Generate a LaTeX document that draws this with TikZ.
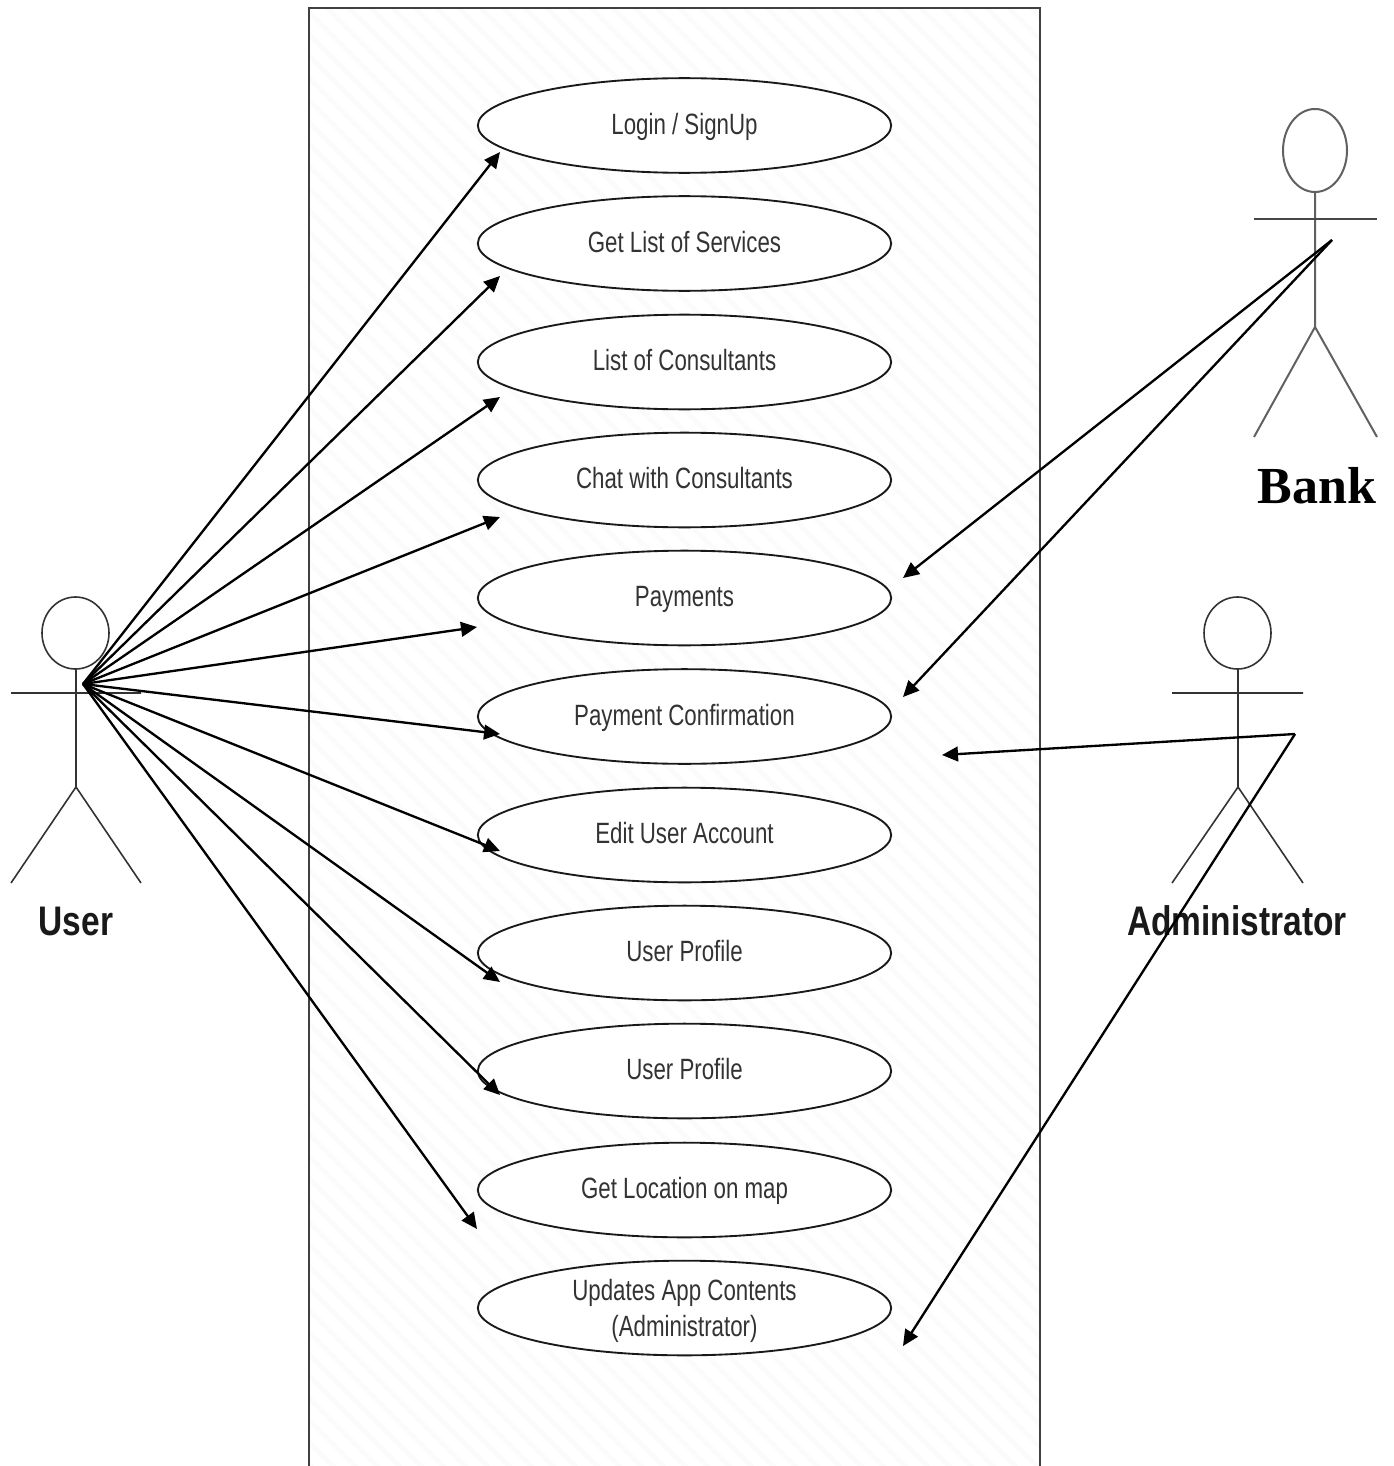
\documentclass[tikz,border=0pt]{standalone}
\usepackage{fontspec}
\setmainfont{Liberation Sans}
\newfontfamily\bankfont{Liberation Serif}
\usetikzlibrary{arrows.meta,shapes.geometric}
\newcommand{\uctext}[1]{\rule[-5pt]{0pt}{23pt}\scalebox{0.76}[1.0]{#1}}
\newcommand{\actortext}[1]{\scalebox{0.81}[1.0]{\bfseries #1}}
\tikzset{
  x=0.75pt,y=-0.75pt,
  usecase/.style={ellipse,draw=black!90,line width=1.4pt,fill=white,minimum width=310pt,minimum height=71pt,inner sep=0pt,align=center,font=\fontsize{22pt}{27pt}\selectfont,text=black!80},
  actorline/.style={draw=black!80,line width=1.2pt},
  bankline/.style={draw=black!62,line width=1.5pt},
  bankarm/.style={draw=black!72,line width=2.1pt},
  link/.style={draw=black,line width=1.75pt,-{Triangle[length=12pt,width=11pt]}},
  actorlabel/.style={inner sep=0pt,anchor=base,font=\fontsize{31pt}{34pt}\selectfont,text=black!90},
  hatch/.style={draw=black!1.6,line width=3.5pt}
}
\begin{document}
\begin{tikzpicture}
\useasboundingbox (0,0) rectangle (1394,1466);
% system boundary
\begin{scope}
  \clip (309,8) rectangle (1040,1466);
  \foreach \k in {-1500,-1478,...,800}
    \draw[hatch] (309+\k,8) -- ++(1500,1500);
\end{scope}
\draw[draw=black!75,line width=1.2pt] (309,1466) -- (309,8) -- (1040,8) -- (1040,1466);
% use cases
\node[usecase] (login)   at (684.5,125.5)  {\uctext{Login / SignUp}};
\node[usecase] (list)    at (684.5,243.5)  {\uctext{Get List of Services}};
\node[usecase] (cons)    at (684.5,362)  {\uctext{List of Consultants}};
\node[usecase] (chat)    at (684.5,480)  {\uctext{Chat with Consultants}};
\node[usecase] (pay)     at (684.5,598)  {\uctext{Payments}};
\node[usecase] (confirm) at (684.5,716.5)  {\uctext{Payment Confirmation}};
\node[usecase] (edit)    at (684.5,835)  {\uctext{Edit User Account}};
\node[usecase] (prof)    at (684.5,953)  {\uctext{User Profile}};
\node[usecase] (profb)   at (684.5,1071) {\uctext{User Profile}};
\node[usecase] (map)     at (684.5,1190) {\uctext{Get Location on map}};
\node[usecase] (upd)     at (684.5,1308) {\raisebox{-7.5pt}[0pt][0pt]{\begin{tabular}{@{}c@{}}\scalebox{0.76}[1.0]{Updates App Contents}\\\scalebox{0.76}[1.0]{(Administrator)}\end{tabular}}};
% user actor
\draw[actorline] (75.5,633) ellipse (33.5 and 36);
\draw[actorline] (76,669) -- (76,787) (11,693) -- (141,693) (11,883) -- (76,787) -- (141,883);
\node[actorlabel] (userlabel) at (76,935) {\actortext{User}};
% bank actor
\draw[bankline] (1315,150.5) ellipse (32 and 41.5);
\draw[bankline] (1315,192) -- (1315,327) (1254,437) -- (1315,327) -- (1377,437);
\draw[bankarm] (1254,219) -- (1377,219);
\node[inner sep=0pt,anchor=base,font=\bankfont\bfseries\fontsize{39pt}{42pt}\selectfont] (banklabel) at (1317,503) {Bank};
% administrator actor
\draw[actorline] (1237.5,633) ellipse (33.5 and 36);
\draw[actorline] (1238,669) -- (1238,787) (1172,693) -- (1303,693) (1172,883) -- (1238,787) -- (1303,883);
\node[actorlabel] (adminlabel) at (1237,935) {\actortext{Administrator}};
% connector ends
\coordinate (u) at (83,684);
\coordinate (b) at (1332,240);
\coordinate (a) at (1295,734);
\coordinate (t1) at (500,152);
\coordinate (t2) at (500,276);
\coordinate (t3) at (500,397);
\coordinate (t4) at (500,517);
\coordinate (t5) at (477,627);
\coordinate (t6) at (500,734);
\coordinate (t7) at (500,851);
\coordinate (t8) at (500,982);
\coordinate (t9) at (500,1095);
\coordinate (t10) at (477,1229);
\coordinate (bt1) at (903,578);
\coordinate (bt2) at (903,697);
\coordinate (at1) at (942,755);
\coordinate (at2) at (903,1346);
% connectors
\foreach \t in {t1,t2,t3,t4,t5,t6,t7,t8,t9,t10} \draw[link] (u) -- (\t);
\draw[link] (b) -- (bt1);
\draw[link] (b) -- (bt2);
\draw[link] (a) -- (at1);
\draw[link] (a) -- (at2);
\end{tikzpicture}
\end{document}
